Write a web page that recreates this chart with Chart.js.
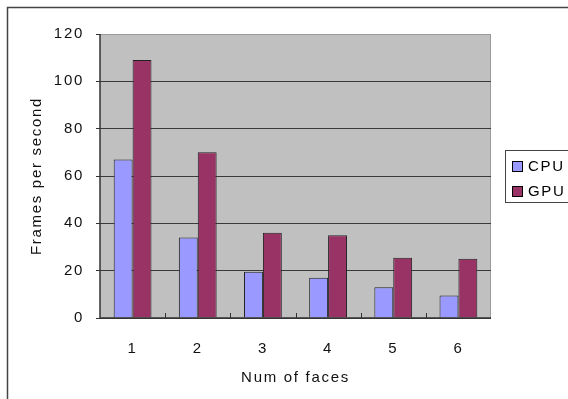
<!DOCTYPE html>
<html>
<head>
<meta charset="utf-8">
<script src="https://cdn.jsdelivr.net/npm/chart.js@4/dist/chart.umd.min.js"></script>
<style>
html,body{margin:0;padding:0;background:#fff;}
#wrap{position:relative;width:568px;height:399px;}
</style>
</head>
<body>
<div id="wrap"><canvas id="c" width="568" height="399"></canvas></div>
<script>
const categories = ['1', '2', '3', '4', '5', '6'];
const cpuValues = [67, 34, 19.5, 17, 13, 9.5];
const gpuValues = [109, 70, 36, 35, 25.5, 25];
const seriesNames = ['CPU', 'GPU'];
const yTicks = [0, 20, 40, 60, 80, 100, 120];

const FONT = {family: 'Liberation Sans, Arial, sans-serif', size: 15};
const SPACING = '1.7px';

const decor = {
  id: 'decor',
  beforeInit(chart) { chart.ctx.letterSpacing = SPACING; },
  beforeLayout(chart) { chart.ctx.letterSpacing = SPACING; },
  beforeDraw(chart) {
    const {ctx, chartArea: a} = chart;
    ctx.letterSpacing = SPACING;
    ctx.save();
    ctx.fillStyle = '#fff';
    ctx.fillRect(0, 0, chart.width, chart.height);
    // outer frame
    ctx.strokeStyle = '#444';
    ctx.lineWidth = 1.5;
    ctx.strokeRect(7.5, 7.5, chart.width + 20, chart.height + 20);
    // plot background
    ctx.fillStyle = '#C0C0C0';
    ctx.fillRect(a.left, a.top, a.right - a.left, a.bottom - a.top);
    // top/right light edges
    ctx.strokeStyle = '#9a9a9a';
    ctx.lineWidth = 1;
    ctx.beginPath();
    ctx.moveTo(a.left, a.top + 0.5);
    ctx.lineTo(a.right - 0.5, a.top + 0.5);
    ctx.lineTo(a.right - 0.5, a.bottom);
    ctx.stroke();
    ctx.restore();
  },
  afterDatasetsDraw(chart) {
    const {ctx, chartArea: a, scales: {x}} = chart;
    ctx.save();
    ctx.strokeStyle = '#333';
    ctx.lineWidth = 1;
    const n = chart.data.labels.length;
    const w = (a.right - a.left) / n;
    for (let i = 1; i < n; i++) {
      const px = Math.round(x.getPixelForValue(i) - w / 2) + 0.5;
      ctx.beginPath();
      ctx.moveTo(px, a.bottom);
      ctx.lineTo(px, a.bottom - 5);
      ctx.stroke();
    }
    // axes
    ctx.strokeStyle = '#333';
    ctx.lineWidth = 1.5;
    ctx.beginPath();
    ctx.moveTo(a.left, a.top);
    ctx.lineTo(a.left, a.bottom);
    ctx.lineTo(a.right, a.bottom);
    ctx.stroke();
    // legend
    const lx = 505, ly = 150, lw = 80, lh = 52;
    ctx.fillStyle = '#fff';
    ctx.fillRect(lx, ly, lw, lh);
    ctx.strokeStyle = '#444';
    ctx.lineWidth = 1;
    ctx.strokeRect(lx + 0.5, ly + 0.5, lw, lh);
    ctx.font = FONT.size + 'px ' + FONT.family;
    ctx.letterSpacing = SPACING;
    ctx.textBaseline = 'middle';
    chart.data.datasets.forEach((ds, i) => {
      const cy = ly + 16 + i * 25;
      ctx.fillStyle = ds.backgroundColor;
      ctx.fillRect(lx + 7.5, cy - 4.5, 10, 10);
      ctx.strokeStyle = '#000';
      ctx.strokeRect(lx + 7.5, cy - 4.5, 10, 10);
      ctx.fillStyle = '#000';
      ctx.fillText(ds.label, lx + 23, cy + 1);
    });
    ctx.restore();
  }
};

new Chart(document.getElementById('c'), {
  type: 'bar',
  data: {
    labels: categories,
    datasets: [
      {label: seriesNames[0], data: cpuValues, backgroundColor: '#9999FF', borderColor: '#222', borderWidth: 1},
      {label: seriesNames[1], data: gpuValues, backgroundColor: '#993366', borderColor: '#222', borderWidth: 1}
    ]
  },
  options: {
    responsive: false,
    animation: false,
    devicePixelRatio: 1,
    layout: {padding: {left: 0, top: 34, right: 77, bottom: 0}},
    datasets: {bar: {categoryPercentage: 0.58, barPercentage: 1.0}},
    plugins: {legend: {display: false}, tooltip: {enabled: false}},
    scales: {
      x: {
        afterFit(s) { s.height = 81; },
        grid: {display: true, drawOnChartArea: false, drawTicks: false},
        border: {display: false},
        ticks: {color: '#111', font: FONT, padding: 22},
        title: {display: true, text: 'Num of faces', color: '#111', font: FONT, padding: {top: 4, bottom: 12}}
      },
      y: {
        min: 0, max: 120,
        afterFit(s) { s.width = 100; },
        afterBuildTicks(s) { s.ticks = yTicks.map(v => ({value: v})); },
        grid: {
          color: ctx => (ctx.tick && ctx.tick.value === 120) ? '#9a9a9a' : '#3a3a3a',
          tickColor: '#333',
          tickLength: 4,
          lineWidth: 1
        },
        border: {display: false},
        ticks: {color: '#111', font: FONT, padding: 12},
        title: {display: true, text: 'Frames per second', color: '#111', font: FONT, padding: {top: 28, bottom: 0}}
      }
    }
  },
  plugins: [decor]
});
</script>
</body>
</html>
